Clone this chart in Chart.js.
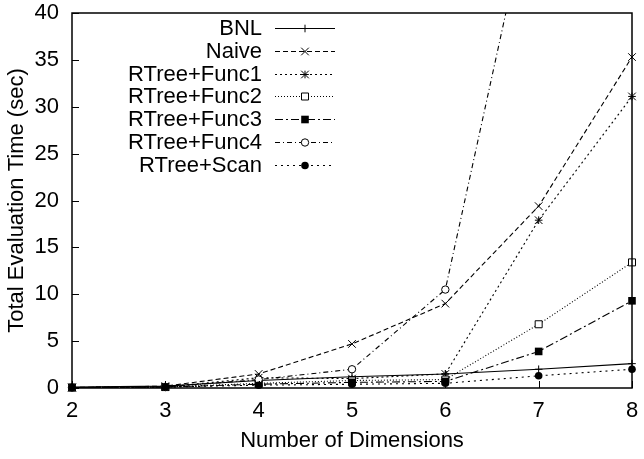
<!DOCTYPE html>
<html>
<head>
<meta charset="utf-8">
<script src="https://cdn.jsdelivr.net/npm/chart.js@4/dist/chart.umd.min.js"></script>
<style>
html,body{margin:0;padding:0;background:#fff;}
#wrap{width:644px;height:459px;}
</style>
</head>
<body>
<div id="wrap"><canvas id="c" width="644" height="459"></canvas></div>
<script>
// Data
const dimensions = [2, 3, 4, 5, 6, 7, 8];
const bnl    = [0.1, 0.2, 0.8, 1.2, 1.5, 2.0, 2.6];
const naive  = [0.05, 0.2, 1.5, 4.7, 9.0, 19.4, 35.3];
const func1  = [0.05, 0.1, 1.1, 1.0, 1.5, 17.9, 31.1];
const func2  = [0.05, 0.1, 0.5, 0.8, 0.9, 6.8, 13.4];
const func3  = [0.05, 0.1, 0.4, 0.6, 0.7, 3.9, 9.3];
const func4  = [0.05, 0.1, 0.9, 2.0, 10.5, 56.0, 150.0];
const scan   = [0.05, 0.1, 0.3, 0.4, 0.5, 1.3, 2.0];
const seriesNames = ['BNL', 'Naive', 'RTree+Func1', 'RTree+Func2', 'RTree+Func3', 'RTree+Func4', 'RTree+Scan'];
const yTicks = [0, 5, 10, 15, 20, 25, 30, 35, 40];
const xTicks = [2, 3, 4, 5, 6, 7, 8];

const seriesValues = [bnl, naive, func1, func2, func3, func4, scan];
const styles = [
  {dash: [], marker: 'plus'},
  {dash: [5, 3], marker: 'x'},
  {dash: [2, 3], marker: 'star'},
  {dash: [1, 2], marker: 'openSquare'},
  {dash: [8, 3, 2, 3], marker: 'filledSquare'},
  {dash: [5, 3, 1, 3], marker: 'openCircle'},
  {dash: [2, 4], marker: 'filledCircle'}
];

function drawMarker(ctx, type, x, y) {
  ctx.save();
  ctx.setLineDash([]);
  ctx.strokeStyle = '#000';
  ctx.fillStyle = '#000';
  ctx.lineWidth = 1;
  const s = 3.8;
  ctx.beginPath();
  if (type === 'plus') {
    ctx.moveTo(x - s, y); ctx.lineTo(x + s, y);
    ctx.moveTo(x, y - s); ctx.lineTo(x, y + s);
    ctx.stroke();
  } else if (type === 'x') {
    ctx.moveTo(x - s, y - s); ctx.lineTo(x + s, y + s);
    ctx.moveTo(x - s, y + s); ctx.lineTo(x + s, y - s);
    ctx.stroke();
  } else if (type === 'star') {
    ctx.moveTo(x - s, y); ctx.lineTo(x + s, y);
    ctx.moveTo(x, y - s); ctx.lineTo(x, y + s);
    ctx.moveTo(x - s, y - s); ctx.lineTo(x + s, y + s);
    ctx.moveTo(x - s, y + s); ctx.lineTo(x + s, y - s);
    ctx.stroke();
  } else if (type === 'openSquare') {
    ctx.fillStyle = '#fff';
    ctx.rect(x - 3.5, y - 3.5, 7, 7);
    ctx.fill(); ctx.stroke();
  } else if (type === 'filledSquare') {
    ctx.rect(x - 3.8, y - 3.8, 7.6, 7.6);
    ctx.fill();
  } else if (type === 'openCircle') {
    ctx.fillStyle = '#fff';
    ctx.arc(x, y, 3.7, 0, Math.PI * 2);
    ctx.fill(); ctx.stroke();
  } else if (type === 'filledCircle') {
    ctx.arc(x, y, 3.8, 0, Math.PI * 2);
    ctx.fill();
  }
  ctx.restore();
}

const datasets = seriesNames.map((name, i) => ({
  label: name,
  data: dimensions.map((d, j) => ({x: d, y: seriesValues[i][j]})),
  borderColor: '#000',
  backgroundColor: '#000',
  borderWidth: 1.1,
  borderDash: styles[i].dash,
  pointRadius: 0,
  tension: 0,
  fill: false
}));

const FONT_FAMILY = '"Liberation Sans", Arial, sans-serif';
const FONT = {family: FONT_FAMILY, size: 22};

const framePlugin = {
  id: 'frame',
  afterDatasetsDraw(chart) {
    const ctx = chart.ctx;
    const a = chart.chartArea;
    const xs = chart.scales.x, ys = chart.scales.y;
    ctx.save();
    ctx.beginPath();
    ctx.rect(a.left - 5, a.top - 1, a.right - a.left + 10, a.bottom - a.top + 6);
    ctx.clip();
    chart.data.datasets.forEach((ds, i) => {
      ds.data.forEach(p => {
        const px = xs.getPixelForValue(p.x), py = ys.getPixelForValue(p.y);
        if (py >= a.top) drawMarker(ctx, styles[i].marker, px, py);
      });
    });
    ctx.restore();
    ctx.save();
    ctx.strokeStyle = '#000';
    ctx.lineWidth = 1.5;
    ctx.setLineDash([]);
    ctx.strokeRect(a.left, a.top, a.right - a.left, a.bottom - a.top);
    ctx.lineWidth = 1;
    ctx.beginPath();
    yTicks.forEach(v => {
      const py = Math.round(ys.getPixelForValue(v)) + 0.5;
      ctx.moveTo(a.left, py); ctx.lineTo(a.left + 7, py);
    });
    xTicks.forEach(v => {
      const px = Math.round(xs.getPixelForValue(v)) + 0.5;
      ctx.moveTo(px, a.bottom); ctx.lineTo(px, a.bottom - 7);
    });
    ctx.stroke();
    // legend
    ctx.font = '22px ' + FONT_FAMILY;
    ctx.fillStyle = '#000';
    ctx.textAlign = 'right';
    ctx.textBaseline = 'middle';
    const textRight = 262, lx0 = 275, lx1 = 335, y0 = 28, dy = 22.8;
    seriesNames.forEach((name, i) => {
      const y = y0 + i * dy;
      ctx.fillText(name, textRight, y + 1);
      ctx.save();
      ctx.lineWidth = 1;
      ctx.setLineDash(styles[i].dash);
      ctx.beginPath();
      ctx.moveTo(lx0, Math.round(y) + 0.5);
      ctx.lineTo(lx1, Math.round(y) + 0.5);
      ctx.stroke();
      ctx.restore();
      drawMarker(ctx, styles[i].marker, (lx0 + lx1) / 2, Math.round(y) + 0.5);
    });
    ctx.restore();
  }
};

Chart.defaults.color = '#000';
new Chart(document.getElementById('c'), {
  type: 'line',
  data: {datasets},
  options: {
    responsive: false,
    animation: false,
    devicePixelRatio: 1,
    layout: {padding: {top: 13, right: 12, left: 0, bottom: 0}},
    plugins: {legend: {display: false}, tooltip: {enabled: false}},
    scales: {
      x: {
        type: 'linear', min: 2, max: 8,
        afterFit(s) { s.height = 71; s.paddingLeft = 0; s.paddingRight = 0; },
        afterBuildTicks(s) { s.ticks = xTicks.map(v => ({value: v})); },
        grid: {display: false, drawTicks: false},
        border: {display: false},
        ticks: {font: FONT, padding: 10, color: '#000', maxRotation: 0},
        title: {display: true, text: 'Number of Dimensions', font: FONT, color: '#000', padding: {top: 0, bottom: 5}}
      },
      y: {
        type: 'linear', min: 0, max: 40,
        afterFit(s) { s.width = 72; s.paddingTop = 0; s.paddingBottom = 0; },
        afterBuildTicks(s) { s.ticks = yTicks.map(v => ({value: v})); },
        grid: {display: false, drawTicks: false},
        border: {display: false},
        ticks: {font: FONT, padding: 13, color: '#000'},
        title: {display: true, text: 'Total Evaluation Time (sec)', font: FONT, color: '#000', padding: {top: 4, bottom: 0}}
      }
    }
  },
  plugins: [framePlugin]
});
</script>
</body>
</html>
